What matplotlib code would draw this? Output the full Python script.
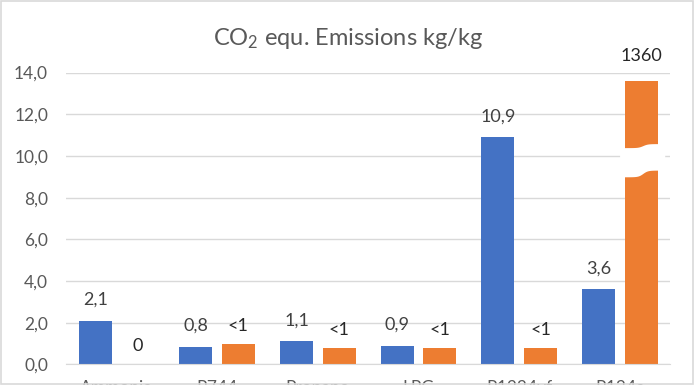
import numpy as np
import matplotlib
matplotlib.use("Agg")
import matplotlib.pyplot as plt
from matplotlib.patches import Rectangle

# data
categories = ["Ammonia", "R744", "Propane", "LPG", "R1234yf", "R134a"]
blue_values = [2.1, 0.85, 1.1, 0.9, 10.9, 3.6]
blue_labels = ["2,1", "0,8", "1,1", "0,9", "10,9", "3,6"]
orange_values = [0, 1.0, 0.8, 0.8, 0.8, 13.6]
orange_labels = ["0", "<1", "<1", "<1", "<1", "1360"]
yticks = [0, 2, 4, 6, 8, 10, 12, 14]

plt.rcParams['font.family'] = ['Lato', 'DejaVu Sans']
plt.rcParams['mathtext.fontset'] = 'custom'
plt.rcParams['mathtext.rm'] = 'Lato'
plt.rcParams['mathtext.it'] = 'Lato'
plt.rcParams['mathtext.default'] = 'regular'

BLUE = "#4472C4"
ORANGE = "#ED7D31"
GRID = "#d9d9d9"
TXT = "#595959"

fig = plt.figure(figsize=(6.96, 3.85), dpi=100)
ax = fig.add_axes([0.095, 0.0535, 0.868, 0.758])

x = np.arange(len(categories))
w = 0.328
off = 0.211
ax.bar(x - off, blue_values, w, color=BLUE, zorder=2)
ax.bar(x + off, orange_values, w, color=ORANGE, zorder=2)

ax.set_xlim(-0.5, len(categories) - 0.5)
ax.set_ylim(0, 14)
ax.set_yticks(yticks)
ax.set_yticklabels(["{:.1f}".format(v).replace(".", ",") for v in yticks])
ax.set_xticks(x)
ax.set_xticklabels(categories)
ax.tick_params(axis='both', length=0, labelsize=12.5, colors=TXT)
ax.tick_params(axis='y', pad=13)
ax.tick_params(axis='x', pad=11.5)
ax.grid(axis='y', color=GRID, linewidth=1, zorder=0)
for s in ['top', 'right', 'left']:
    ax.spines[s].set_visible(False)
ax.spines['bottom'].set_color(GRID)

for i, v in enumerate(blue_values):
    ax.annotate(blue_labels[i], (x[i] - off, v), xytext=(0, 15), textcoords='offset points',
                ha='center', va='center', fontsize=13, color="#404040")
for i, v in enumerate(orange_values):
    dy = 18 if i == len(orange_values) - 1 else 13
    ax.annotate(orange_labels[i], (x[i] + off, v), xytext=(0, dy), textcoords='offset points',
                ha='center', va='center', fontsize=13, color="#262626")

# axis break on the tall orange bar
xc = x[-1] + off
xs = np.linspace(xc - w / 2 - 0.05, xc + w / 2 + 0.07, 100)
t = (xs - xc) / (w / 2)
step = 0.32 * (np.tanh(3.5 * (t - 0.1)) + 1) / 2
ax.fill_between(xs, 9.0 + step, 10.4 + step * 0.6, color="white", zorder=3, linewidth=0)

fig.text(0.5, 0.9, "CO$_2$ equ. Emissions kg/kg", fontsize=17, color=TXT,
         ha='center', va='center')

fig.patches.append(Rectangle((0.002, 0.003), 0.994, 0.994, transform=fig.transFigure,
                             fill=False, edgecolor=GRID, linewidth=1.2))

fig.savefig("out.png", dpi=100)
